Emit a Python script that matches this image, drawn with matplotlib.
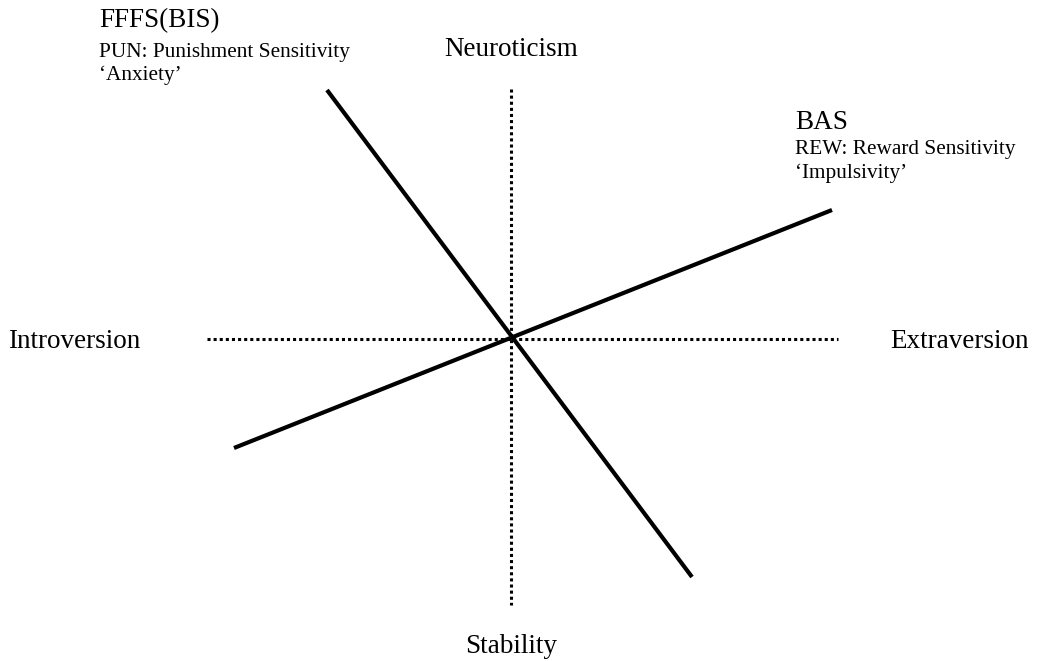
import numpy as np
import matplotlib
matplotlib.use("Agg")
import matplotlib.pyplot as plt
from matplotlib import rcParams
rcParams.update({"font.family": "Liberation Serif"})

W, H = 1038, 661
CX, CY = 511, 339  # where the two axes cross, in pixels

# dotted personality axes (x, y relative to the crossing, y up)
AXIS_H_X = [-304, 327]
AXIS_H_Y = [0, 0]
AXIS_V_X = [0, 0]
AXIS_V_Y = [250, -266]

# solid reinforcement-sensitivity lines
FFFS_X = [-184, 181]
FFFS_Y = [249, -238]
BAS_X = [-277, 321]
BAS_Y = [-109, 129]

AXIS_LABELS = ["Neuroticism", "Stability", "Introversion", "Extraversion"]
FFFS_LINES = ["FFFS(BIS)", "PUN: Punishment Sensitivity", "\u2018Anxiety\u2019"]
BAS_LINES = ["BAS", "REW: Reward Sensitivity", "\u2018Impulsivity\u2019"]

BIG = 19.5
SMALL = 15.3


def main():
    fig = plt.figure(figsize=(W / 100, H / 100), dpi=100)
    ax = fig.add_axes([0, 0, 1, 1])
    ax.set_xlim(-CX, W - CX)
    ax.set_ylim(CY - H, CY)
    ax.axis("off")

    dots = dict(color="black", lw=2.2, linestyle=(0, (1, 1)), dash_capstyle="butt")
    ax.plot(AXIS_H_X, AXIS_H_Y, **dots)
    ax.plot(AXIS_V_X, AXIS_V_Y, **dots)

    ax.plot(FFFS_X, FFFS_Y, color="black", lw=3, solid_capstyle="butt")
    ax.plot(BAS_X, BAS_Y, color="black", lw=3, solid_capstyle="butt")

    # axis end labels
    ax.text(0, CY - 56, AXIS_LABELS[0], fontsize=BIG, ha="center", va="baseline")
    ax.text(0, CY - 653, AXIS_LABELS[1], fontsize=BIG, ha="center", va="baseline")
    ax.text(8 - CX, -2, AXIS_LABELS[2], fontsize=BIG, ha="left", va="center")
    ax.text(1029 - CX, -2, AXIS_LABELS[3], fontsize=BIG, ha="right", va="center")

    # FFFS block, top left
    ax.text(99 - CX, CY - 27, FFFS_LINES[0], fontsize=BIG, va="baseline")
    ax.text(99 - CX, CY - 57, FFFS_LINES[1], fontsize=SMALL, va="baseline")
    ax.text(99 - CX, CY - 80, FFFS_LINES[2], fontsize=SMALL, va="baseline")

    # BAS block, right
    ax.text(795 - CX, CY - 129, BAS_LINES[0], fontsize=BIG, va="baseline")
    ax.text(795 - CX, CY - 154, BAS_LINES[1], fontsize=SMALL, va="baseline")
    ax.text(795 - CX, CY - 178, BAS_LINES[2], fontsize=SMALL, va="baseline")

    fig.savefig("out.png", dpi=100, facecolor="white")
    plt.close(fig)


if __name__ == "__main__":
    main()
